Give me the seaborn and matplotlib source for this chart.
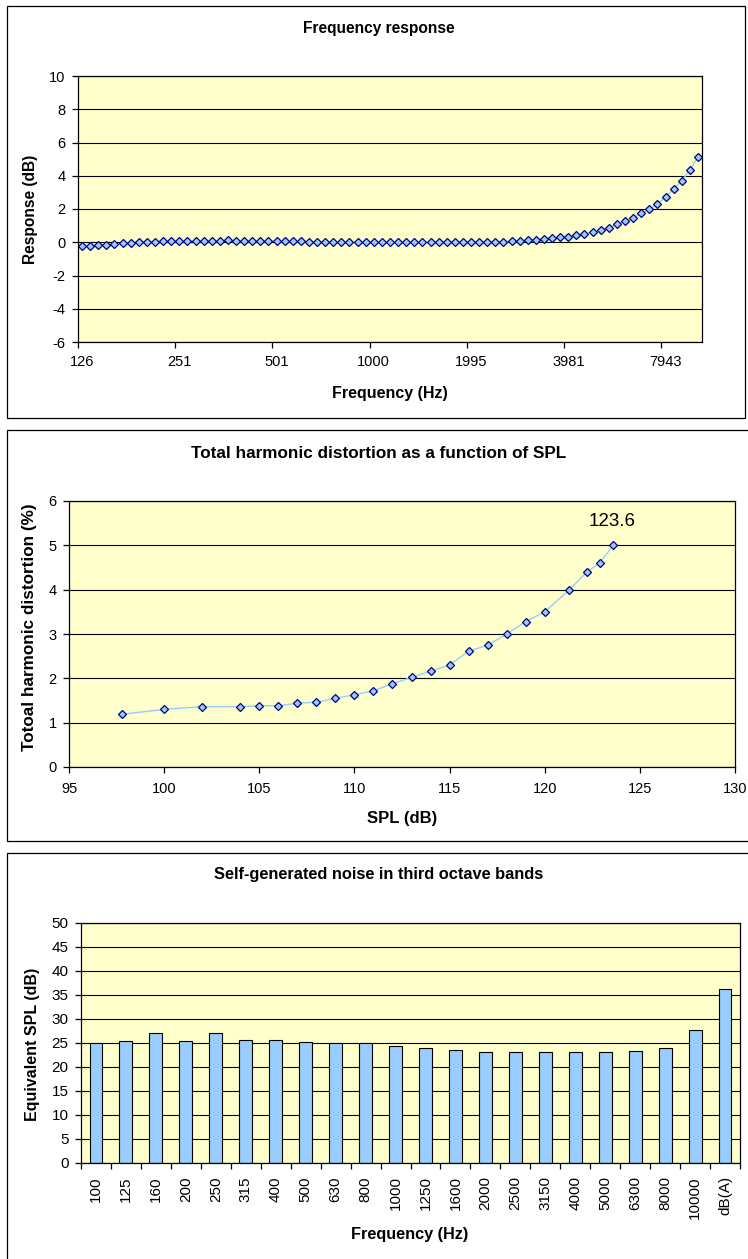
import numpy as np
import pandas as pd
import matplotlib
matplotlib.use("Agg")
import matplotlib.pyplot as plt
import seaborn as sns
from matplotlib.patches import Rectangle

# ---------------- data ----------------
# Chart 1: frequency response (1/12-octave points, 126 Hz ... 10 kHz)
fr_tick_labels = ["126", "251", "501", "1000", "1995", "3981", "7943"]
fr_response = [
    -0.22, -0.25, -0.16, -0.19, -0.10, -0.07, -0.02, 0.00, 0.00, 0.04,
    0.05, 0.05, 0.06, 0.06, 0.06, 0.06, 0.06, 0.06, 0.12, 0.06,
    0.06, 0.06, 0.06, 0.06, 0.06, 0.06, 0.06, 0.05, 0.03, 0.01,
    0.00, -0.01, -0.01, -0.01, -0.01, -0.01, -0.01, -0.01, -0.01, -0.01,
    -0.01, -0.01, -0.01, -0.01, -0.01, -0.01, -0.01, -0.01, -0.01, -0.01,
    0.00, 0.01, 0.04, 0.06, 0.08, 0.12, 0.15, 0.20, 0.27, 0.30,
    0.34, 0.42, 0.48, 0.64, 0.74, 0.88, 1.08, 1.27, 1.48, 1.73,
    1.98, 2.30, 2.72, 3.19, 3.69, 4.36, 5.12,
]

# Chart 2: THD vs SPL
thd_spl = [97.8, 100, 102, 104, 105, 106, 107, 108, 109, 110, 111, 112,
           113, 114, 115, 116, 117, 118, 119, 120, 121.3, 122.2, 122.9, 123.6]
thd_pct = [1.19, 1.30, 1.36, 1.36, 1.38, 1.38, 1.44, 1.46, 1.55, 1.63, 1.72, 1.88,
           2.02, 2.16, 2.30, 2.61, 2.75, 3.00, 3.28, 3.50, 4.00, 4.39, 4.61, 5.00]
thd_note = "123.6"

# Chart 3: self-generated noise
noise_bands = ["100", "125", "160", "200", "250", "315", "400", "500", "630", "800",
               "1000", "1250", "1600", "2000", "2500", "3150", "4000", "5000", "6300",
               "8000", "10000", "dB(A)"]
noise_spl = [25.0, 25.5, 27.0, 25.5, 27.0, 25.7, 25.7, 25.2, 25.0, 25.0,
             24.4, 24.0, 23.6, 23.2, 23.2, 23.2, 23.2, 23.2, 23.4,
             24.0, 27.8, 36.2]

# ---------------- style ----------------
sns.set_theme(style="white")
plt.rcParams["font.family"] = ["Liberation Sans", "DejaVu Sans"]
plt.rcParams["axes.unicode_minus"] = False
plt.rcParams["text.color"] = "black"
plt.rcParams["axes.labelcolor"] = "black"
plt.rcParams["xtick.color"] = "black"
plt.rcParams["ytick.color"] = "black"

W, H = 748, 1259
fig = plt.figure(figsize=(W / 100, H / 100), dpi=100)
fig.patch.set_facecolor("white")

BG = "#FFFFCC"
FILL = "#99CCFF"
EDGE = "#000080"
LINE = "#99CCFF"


def add_ax(x0, x1, y0, y1):
    return fig.add_axes([x0 / W, 1 - y1 / H, (x1 - x0) / W, (y1 - y0) / H])


def ftext(x, y, s, **kw):
    fig.text(x / W, 1 - y / H, s, ha="center", va="center", color="black", **kw)


def border(x0, x1, y0, y1, lw=0.9):
    fig.add_artist(Rectangle((x0 / W, 1 - y1 / H), (x1 - x0) / W, (y1 - y0) / H,
                             transform=fig.transFigure, fill=False,
                             ec="black", lw=lw))


def style_axes(ax):
    ax.set_facecolor(BG)
    for sp in ax.spines.values():
        sp.set_visible(True)
        sp.set_color("black")
        sp.set_linewidth(0.9)
    ax.yaxis.grid(True, color="black", lw=0.8)
    ax.xaxis.grid(False)
    ax.set_axisbelow(True)
    ax.set_xlabel("")
    ax.set_ylabel("")


# panel borders
border(7, 745, 6, 418)
border(7, 760, 430, 841)
border(7, 760, 853, 1275)

# ---------------- chart 1 ----------------
ax1 = add_ax(78, 702, 76, 342)
df1 = pd.DataFrame({"band": np.arange(len(fr_response)), "response": fr_response})
sns.lineplot(data=df1, x="band", y="response", ax=ax1, color=LINE, lw=1.0,
             marker="D", markersize=4.4, markerfacecolor=FILL,
             markeredgecolor=EDGE, markeredgewidth=0.9)
style_axes(ax1)
n1 = len(fr_response)
ax1.set_xlim(-0.5, n1 - 0.5)
ax1.set_ylim(-6, 10)
ax1.set_yticks(np.arange(-6, 11, 2))
ax1.set_xticks(np.arange(0, n1, 12))
ax1.set_xticklabels(fr_tick_labels)
ax1.set_xticks(np.arange(-0.5, n1 - 1, 12), minor=True)
ax1.tick_params(axis="x", which="major", length=0, pad=9.5, labelsize=10.5)
ax1.tick_params(axis="x", which="minor", length=4, width=0.9, direction="out",
                color="black", bottom=True)
ax1.tick_params(axis="y", length=4, width=0.9, direction="out", color="black",
                left=True, pad=5, labelsize=10.5)
ftext(379, 29, "Frequency response", fontsize=11.2, fontweight="bold")
ftext(390, 393, "Frequency (Hz)", fontsize=11.5, fontweight="bold")
ftext(31, 209, "Response (dB)", fontsize=11.2, fontweight="bold", rotation=90)

# ---------------- chart 2 ----------------
ax2 = add_ax(69, 735, 501, 767)
df2 = pd.DataFrame({"spl": thd_spl, "thd": thd_pct})
sns.lineplot(data=df2, x="spl", y="thd", ax=ax2, color=LINE, lw=1.0,
             marker="D", markersize=3.8, markerfacecolor=FILL,
             markeredgecolor=EDGE, markeredgewidth=0.9)
style_axes(ax2)
ax2.set_xlim(95, 130)
ax2.set_ylim(0, 6)
ax2.set_xticks(np.arange(95, 131, 5))
ax2.set_yticks(np.arange(0, 7, 1))
ax2.tick_params(axis="x", length=4, width=0.9, direction="out", color="black",
                bottom=True, pad=7, labelsize=10.5)
ax2.tick_params(axis="y", length=4, width=0.9, direction="out", color="black",
                left=True, pad=5, labelsize=10.5)
ax2.annotate(thd_note, xy=(thd_spl[-1], thd_pct[-1]), xytext=(-1, 17),
             textcoords="offset points", ha="center", va="center", fontsize=13.5,
             color="black")
ftext(379, 454, "Total harmonic distortion as a function of SPL", fontsize=12.3,
      fontweight="bold")
ftext(402, 819, "SPL (dB)", fontsize=12, fontweight="bold")
ftext(30, 627, "Totoal harmonic distortion (%)", fontsize=12.3, fontweight="bold",
      rotation=90)

# ---------------- chart 3 ----------------
ax3 = add_ax(81, 740, 923, 1163)
df3 = pd.DataFrame({"band": noise_bands, "spl": noise_spl})
sns.barplot(data=df3, x="band", y="spl", ax=ax3, color=FILL, saturation=1,
            edgecolor="black", linewidth=0.8, width=0.43)
style_axes(ax3)
n3 = len(noise_bands)
ax3.set_xlim(-0.5, n3 - 0.5)
ax3.set_ylim(0, 50)
ax3.set_yticks(np.arange(0, 51, 5))
ax3.set_xticks(np.arange(n3))
ax3.set_xticklabels(noise_bands, rotation=90)
ax3.set_xticks(np.arange(-0.5, n3, 1), minor=True)
ax3.tick_params(axis="x", which="major", length=0, pad=9.5, labelsize=11)
ax3.tick_params(axis="x", which="minor", length=4, width=0.9, direction="out",
                color="black", bottom=True)
ax3.tick_params(axis="y", length=4, width=0.9, direction="out", color="black",
                left=True, pad=5, labelsize=11)
ftext(379, 874, "Self-generated noise in third octave bands", fontsize=11.8,
      fontweight="bold")
ftext(410, 1235, "Frequency (Hz)", fontsize=11.7, fontweight="bold")
ftext(33, 1044, "Equivalent SPL (dB)", fontsize=11.5, fontweight="bold", rotation=90)

fig.savefig("out.png", dpi=100)
